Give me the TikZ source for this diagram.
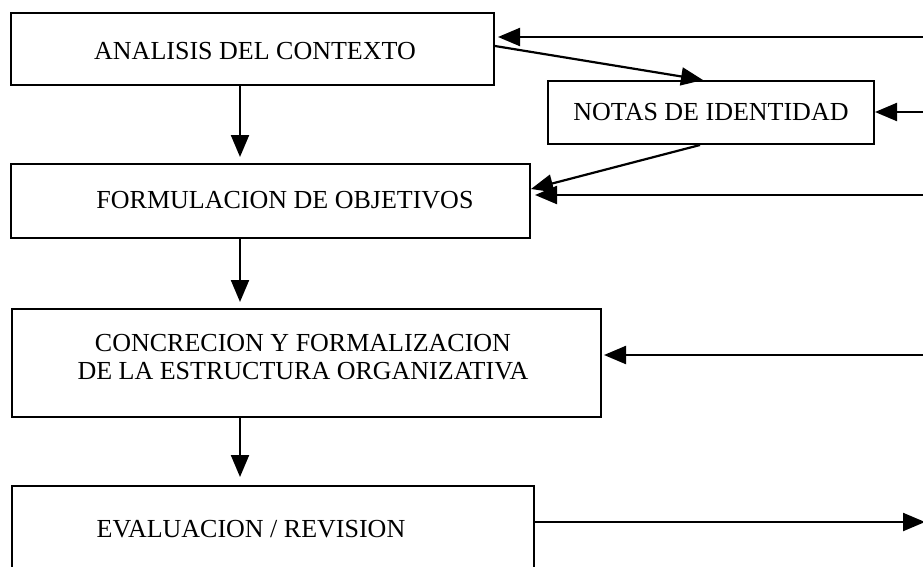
\documentclass[tikz,border=0pt]{standalone}
\usepackage{fontspec}
\setmainfont{Liberation Serif}
\usetikzlibrary{arrows.meta}
\tikzset{
    box/.style = {draw, line width=2pt, inner sep=0pt, anchor=north west},
    lbl/.style = {font=\fontsize{26}{28}\selectfont, inner sep=0pt},
    flow/.style = {line width=2.2pt, -{Triangle[length=22pt, width=18pt]}}
}

\begin{document}
\begin{tikzpicture}[x=1pt, y=-1pt]
        \clip (0, 0) rectangle (923, 566);
        % boxes of the main column
        \node[box, minimum width=483pt, minimum height=72pt] (analisis) at (10, 12) {};
        \node[box, minimum width=519pt, minimum height=74pt] (objetivos) at (10, 163) {};
        \node[box, minimum width=589pt, minimum height=108pt] (estructura) at (11, 308) {};
        \node[box, minimum width=522pt, minimum height=130pt] (evaluacion) at (11, 485) {};
        \node[box, lbl, anchor=center, minimum width=326pt, minimum height=63pt] (notas) at (711, 112.5) {NOTAS DE IDENTIDAD};
        % texts of the boxes
        \node[lbl, anchor=base] (analisis-txt) at (255, 59) {ANALISIS DEL CONTEXTO};
        \node[lbl, anchor=base] (objetivos-txt) at (285, 208) {FORMULACION DE OBJETIVOS};
        \node[lbl, align=center] (estructura-txt) at (303, 357) {CONCRECION Y FORMALIZACION\\DE LA ESTRUCTURA ORGANIZATIVA};
        \node[lbl, anchor=base] (evaluacion-txt) at (251, 537) {EVALUACION / REVISION};
        % free ends at the right margin
        \coordinate (spine) at (240, 0);
        \coordinate (in-analisis) at (925, 37);
        \coordinate (in-notas) at (925, 112);
        \coordinate (in-objetivos) at (925, 195);
        \coordinate (in-estructura) at (925, 355);
        \coordinate (out-evaluacion) at (925, 522);
        % arrows down the column
        \draw[flow, shorten >=6pt] (analisis.south -| spine) -- (objetivos.north -| spine);
        \draw[flow, shorten >=6pt] (objetivos.south -| spine) -- (estructura.north -| spine);
        \draw[flow, shorten >=8pt] (estructura.south -| spine) -- (evaluacion.north -| spine);
        % arrows through the notes
        \draw[flow] ([yshift=3pt]analisis.east) -- ([xshift=-8pt]notas.north);
        \draw[flow] ([xshift=-11pt]notas.south) -- ([yshift=12pt]objetivos.east);
        % feedback from the right
        \draw[flow, shorten >=3pt] (in-analisis) -- (analisis.east |- in-analisis);
        \draw[flow] (in-notas) -- (notas.east |- in-notas);
        \draw[flow, shorten >=4pt] (in-objetivos) -- (objetivos.east |- in-objetivos);
        \draw[flow, shorten >=2pt] (in-estructura) -- (estructura.east |- in-estructura);
        \draw[flow] (evaluacion.east |- out-evaluacion) -- (out-evaluacion);
    \end{tikzpicture}
\end{document}
